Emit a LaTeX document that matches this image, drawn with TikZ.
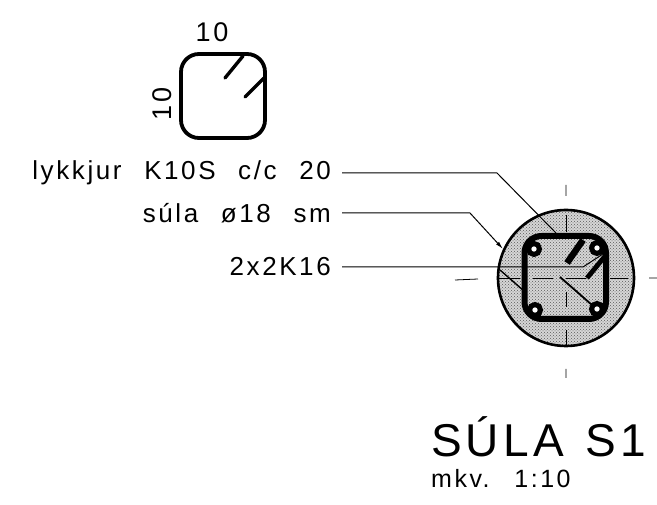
\documentclass[tikz,border=0pt]{standalone}
\usepackage{fontspec}
\setmainfont[LetterSpace=10,WordSpace=2.3]{Liberation Sans}
\newfontfamily\titlefont[LetterSpace=9,WordSpace=1.3]{Liberation Sans}
\usetikzlibrary{patterns,arrows.meta}
\tikzset{
  lbl/.style={inner sep=0pt,font=\fontsize{26}{26}\selectfont,anchor=east},
  leader/.style={line width=1pt,black},
  thin cross/.style={line width=.7pt,black},
}
\begin{document}
\begin{tikzpicture}[x=1pt,y=-1pt]
\useasboundingbox (0,0) rectangle (657,505);
% small stirrup
\draw[line width=3.8pt,rounded corners=18pt] (181,54) rectangle (265,138);
\coordinate (h1a) at (243,56); \coordinate (h1b) at (225,78);
\coordinate (h2a) at (264,78); \coordinate (h2b) at (245,97);
\draw[line width=3.4pt,line cap=round] (h1a)--(h1b) (h2a)--(h2b);
\node[inner sep=0pt,font=\fontsize{27}{27}\selectfont] (tt) at (212,32) {10};
\node[inner sep=0pt,font=\fontsize{27}{27}\selectfont,rotate=90] (tl) at (162,104) {10};
% section
\coordinate (c) at (566,278);
\fill[black!16] (c) circle (68);
\fill[pattern=crosshatch dots,pattern color=black!65] (c) circle (68);
\draw[line width=2.6pt] (c) circle (68);
% stirrup
\draw[line width=6pt,rounded corners=17pt] (524.5,236) rectangle (606,319);
% centre lines
\draw[thin cross] (566,215)--(566,232) (566,292)--(566,307) (566,330)--(566,347)
  (533,278)--(553,278) (610,278)--(628,278) (498,278)--(520,278) (566,278)--(586,278);
\draw[line width=.8pt] (566,185)--(566,196) (566,369)--(566,378) (455,280)--(478,279) (649,278)--(657,278);
% labels
\node[lbl] (a) at (331,173) {lykkjur K10S c/c 20};
\node[lbl] (b) at (331,213) {súla ø18 sm};
\node[lbl] (d) at (331,267) {2x2K16};
% leaders
\coordinate (a1) at (497,173); \coordinate (a2) at (556,233);
\coordinate (b1) at (470,213); \coordinate (b2) at (503,249);
\coordinate (d1) at (583,267); \coordinate (d2) at (606,252);
\draw[leader] (a.east)++(11,0) -- (a1) -- (a2);
\draw[leader,-{Latex[length=8pt,width=4pt]}] (b.east)++(11,0) -- (b1) -- (b2);
\draw[leader] (d.east)++(11,0) -- (d1) -- (d2);
\draw[line width=1.4pt] (500,270) -- (524,291);
\draw[line width=1.8pt] (560,277) -- (600,312);
% stirrup hooks
\draw[line width=6.5pt] (583,240)--(567,263);
\draw[line width=4.8pt] (606,255)--(587,278);
% longitudinal bars
\foreach \n/\x/\y in {p/534/249,q/597/248,r/535/310,s/597/309}{
  \node[circle,draw=black,line width=5pt,fill=white,minimum size=11pt,inner sep=0pt] (\n) at (\x,\y) {};
}
% title
\node[inner sep=0pt,anchor=west,font=\titlefont\fontsize{46}{46}\selectfont] (title) at (431,437) {SÚLA S1};
\node[inner sep=0pt,anchor=west,font=\fontsize{25}{25}\selectfont] (scale) at (431,479) {mkv. 1:10};
\end{tikzpicture}
\end{document}
